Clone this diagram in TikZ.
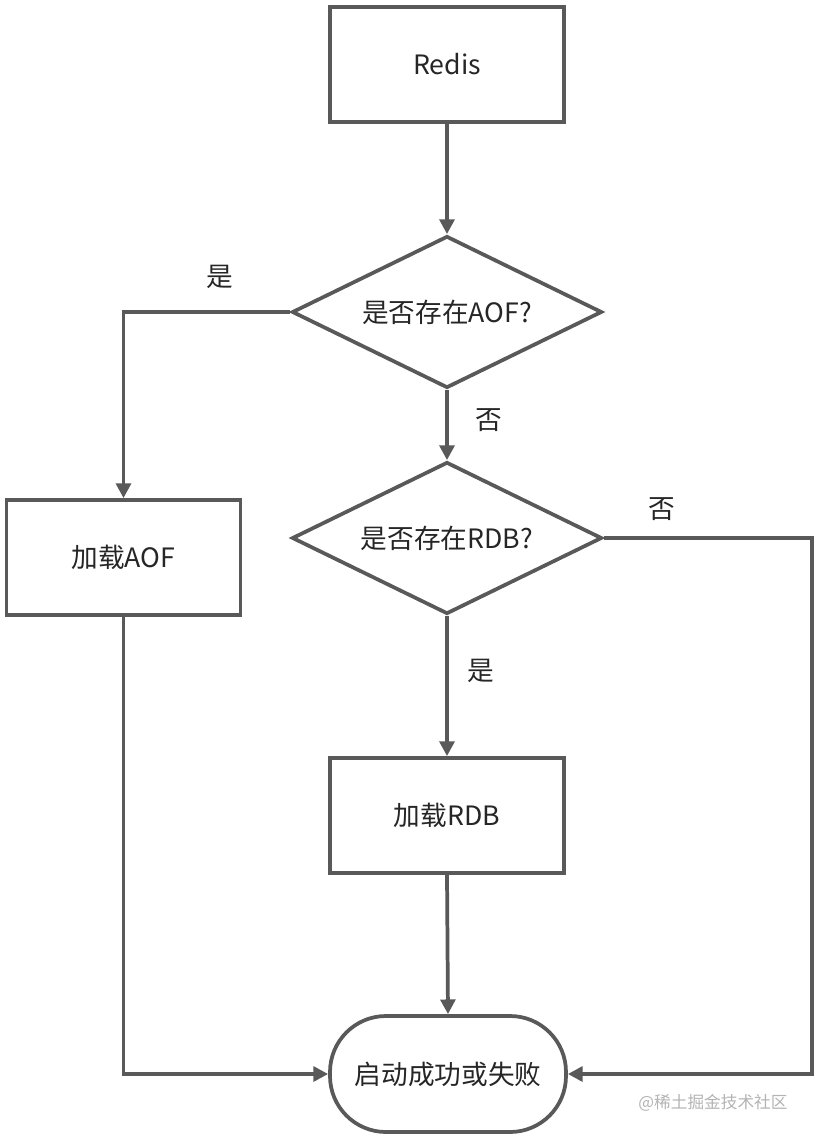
\documentclass[tikz,border=0pt]{standalone}
\usepackage{fontspec}
\setmainfont{Noto Sans CJK SC}
\usetikzlibrary{arrows.meta,shapes.geometric}
\definecolor{flowgray}{HTML}{595959}
\definecolor{marktext}{HTML}{B4B4B4}
\tikzset{
  flowline/.style={draw=flowgray, line width=2.8pt},
  flowarrow/.style={flowline, -{Triangle[length=11pt,width=11pt]}},
  procbox/.style={flowline, rectangle, fill=white, minimum width=175.5pt, minimum height=86.25pt, font=\fontsize{20}{24}\selectfont, text=black!85},
  askbox/.style={flowline, diamond, aspect=2, fill=white, minimum width=232.5pt, minimum height=114pt, inner sep=0pt, font=\fontsize{20}{24}\selectfont, text=black!85},
  endbox/.style={flowline, rectangle, rounded corners=42pt, fill=white, minimum width=177pt, minimum height=87pt, font=\fontsize{20}{24}\selectfont, text=black!85},
  answer/.style={font=\fontsize{20}{24}\selectfont, text=black!85}
}
\begin{document}
\begin{tikzpicture}[x=0.75pt, y=-0.75pt]
     \useasboundingbox (0,0) rectangle (816,1139);
     \fill[white] (0,0) rectangle (816,1139); % plain white page
     \node[procbox] (redis) at (447,64.5) {Redis};
     \node[askbox] (hasaof) at (447,312) {是否存在AOF?};
     \node[askbox] (hasrdb) at (447,538) {是否存在RDB?};
     \node[procbox] (loadaof) at (123.5,557.5) {加载AOF};
     \node[procbox] (loadrdb) at (447,815.5) {加载RDB};
     \node[endbox] (finish) at (448,1074) {启动成功或失败};
     \coordinate (rdbturn) at (812,538); % corner of the long line on the right
     \draw[flowarrow] (redis) -- (hasaof);
     \draw[flowarrow] (hasaof.west) -| (loadaof.north);
     \draw[flowarrow] (hasaof.south) -- (hasrdb.north);
     \draw[flowarrow] (hasrdb.south) -- (loadrdb.north);
     \draw[flowarrow] (hasrdb.east) -- (rdbturn) |- (finish.east);
     \draw[flowarrow] (loadaof.south) |- (finish.west);
     \draw[flowarrow] (loadrdb.south) -- (finish.north);
     \node[answer] (aofyes) at (220,277) {是};
     \node[answer] (aofno) at (489,420) {否};
     \node[answer] (rdbno) at (662,509) {否};
     \node[answer] (rdbyes) at (481,671) {是};
     \node[text=marktext, font=\fontsize{12.5}{15}\selectfont] (mark) at (713,1103) {@稀土掘金技术社区};
\end{tikzpicture}
\end{document}
